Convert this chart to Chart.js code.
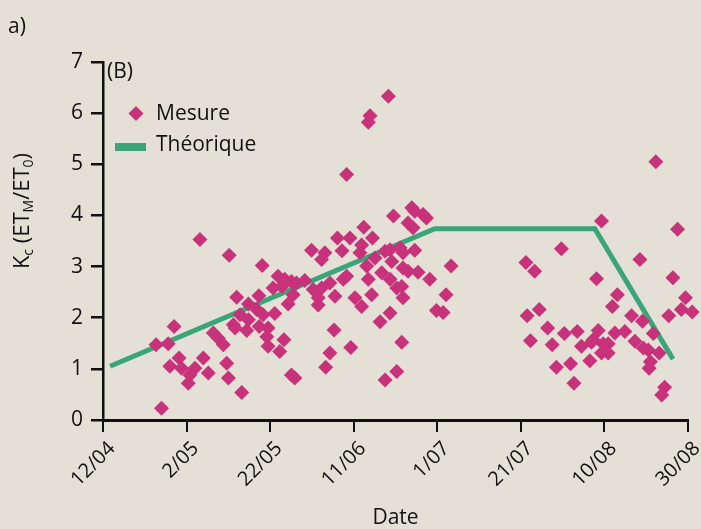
<!DOCTYPE html>
<html>
<head>
<meta charset="utf-8">
<script src="https://cdn.jsdelivr.net/npm/chart.js@4"></script>
<style>
  html, body { margin: 0; padding: 0; background: #e5e0d6; }
  #wrap { width: 701px; height: 529px; position: relative; }
</style>
</head>
<body>
<div id="wrap"><canvas id="kc-chart"></canvas></div>
<script>
// axe des x : jours depuis le 12/04, un repère tous les 20 jours
const tickLabels = ['12/04', '2/05', '22/05', '11/06', '1/07', '21/07', '10/08', '30/08'];

// Kc mesuré (jour, valeur)
const measureDays = [
  14.0, 12.7, 15.6, 17.0, 18.2, 16.0, 18.8, 22.0, 20.8, 20.4,
  23.2, 24.0, 25.2, 26.4, 27.6, 28.8, 29.6, 30.0, 33.2, 30.2,
  32.0, 32.8, 31.2, 31.6, 34.8, 34.4, 34.8, 37.3, 38.1, 37.4,
  39.5, 39.2, 39.5, 41.1, 41.9, 43.5, 45.1, 40.7, 42.8, 46.3,
  45.5, 44.3, 43.3, 42.3, 45.1, 45.9, 36.8, 38.3,
  48.3, 49.9, 53.1, 52.3, 50.3, 52.3, 54.3, 51.5, 51.5, 55.5,
  55.3, 54.3, 53.3, 57.5, 58.3, 56.1, 57.2, 59.1, 58.3, 59.3,
  60.3, 61.9, 61.9, 61.5, 62.4, 63.1, 63.5, 64.3, 64.5, 63.9,
  63.5, 65.1, 66.3, 66.7, 67.5, 67.5, 68.3, 68.7, 69.1, 68.7,
  68.7, 69.5, 70.3, 70.3, 71.1, 71.5, 71.5, 71.8, 71.8, 71.8,
  73.0, 73.0, 74.2, 73.9, 74.6, 74.6, 75.4, 76.6, 77.4, 78.2,
  79.8, 81.4, 82.1, 83.3,
  101.2, 103.3, 101.5, 104.4, 102.3, 106.4, 107.5, 108.5, 109.7, 110.4,
  111.9, 112.7, 113.5, 114.5, 116.5, 116.9, 117.3, 118.1, 118.5, 119.3,
  119.7, 120.9, 119.3, 120.9, 121.9, 123.1, 122.5, 124.9, 126.5, 127.3,
  128.5, 129.1, 129.3, 130.5, 131.0, 130.7, 131.7, 132.3, 133.1, 134.4,
  133.7, 135.4, 136.4, 137.5, 138.4, 139.4, 141.0
];
const measureValues = [
  0.23, 1.47, 1.49, 1.83, 1.21, 1.05, 1.01, 1.01, 0.88, 0.72,
  3.53, 1.21, 0.92, 1.70, 1.60, 1.47, 1.11, 0.82, 0.54, 3.22,
  2.40, 2.06, 1.86, 1.80, 1.96, 1.75, 2.27, 2.43, 3.02, 1.83,
  1.80, 1.63, 1.44, 2.08, 2.81, 2.75, 2.71, 2.58, 2.61, 2.68,
  2.45, 2.27, 1.57, 1.34, 0.88, 0.82, 2.16, 2.06,
  2.73, 3.32, 3.27, 3.14, 2.55, 2.58, 2.68, 2.39, 2.25, 2.42,
  1.76, 1.31, 1.03, 2.75, 2.81, 3.56, 3.31, 3.56, 4.80, 1.42,
  2.39, 2.22, 3.42, 3.27, 3.77, 3.01, 2.75, 2.45, 3.56, 5.95,
  5.82, 3.17, 1.92, 2.88, 3.30, 0.78, 6.33, 3.33, 3.10, 2.75,
  2.09, 3.99, 2.58, 0.95, 3.37, 2.61, 1.52, 3.27, 2.97, 2.39,
  2.91, 3.85, 3.76, 4.15, 4.08, 3.32, 2.89, 4.02, 3.95, 2.75,
  2.14, 2.10, 2.45, 3.01,
  3.08, 2.91, 2.04, 2.16, 1.55, 1.80, 1.47, 1.03, 3.35, 1.69,
  1.10, 0.72, 1.73, 1.44, 1.16, 1.52, 1.57, 2.76, 1.75, 3.89,
  1.49, 1.49, 1.31, 1.31, 2.22, 2.45, 1.70, 1.73, 2.04, 1.54,
  3.14, 1.93, 1.41, 1.37, 1.14, 1.01, 1.69, 5.05, 1.31, 0.64,
  0.49, 2.04, 2.78, 3.73, 2.16, 2.39, 2.11
];

// Kc théorique
const theoDays = [1.7, 79.4, 117.7, 136.4];
const theoValues = [1.05, 3.74, 3.74, 1.19];

const pink = '#c8327a';
const green = '#3aa578';
const ink = '#111111';
const fontFamily = '"Open Sans", "DejaVu Sans", sans-serif';

const mesure = measureDays.map((d, i) => ({ x: d, y: measureValues[i] }));
const theorique = theoDays.map((d, i) => ({ x: d, y: theoValues[i] }));

// textes hors axes : a), (B), légende, titre de l'axe y avec indices
const extras = {
  id: 'extras',
  afterDraw(chart) {
    const ctx = chart.ctx;
    ctx.save();
    ctx.fillStyle = ink;
    ctx.textBaseline = 'middle';
    ctx.textAlign = 'left';
    ctx.font = '21px ' + fontFamily;
    ctx.fillText('a)', 8, 27);
    ctx.fillText('(B)', 107, 72);

    // légende
    ctx.fillStyle = pink;
    ctx.beginPath();
    ctx.moveTo(136, 106); ctx.lineTo(143.5, 113.5); ctx.lineTo(136, 121); ctx.lineTo(128.5, 113.5);
    ctx.closePath();
    ctx.fill();
    ctx.strokeStyle = green;
    ctx.lineWidth = 8;
    ctx.beginPath();
    ctx.moveTo(115, 147); ctx.lineTo(146, 147);
    ctx.stroke();
    ctx.fillStyle = ink;
    ctx.fillText('Mesure', 156, 114);
    ctx.fillText('Théorique', 156, 145);

    // titre y : Kc (ETM/ET0)
    const parts = [['K', 0], ['c', 1], [' (ET', 0], ['M', 1], ['/ET', 0], ['0', 1], [')', 0]];
    const mainFont = '22px ' + fontFamily;
    const subFont = '14px ' + fontFamily;
    let total = 0;
    parts.forEach(p => { ctx.font = p[1] ? subFont : mainFont; total += ctx.measureText(p[0]).width; });
    ctx.translate(23, 211);
    ctx.rotate(-Math.PI / 2);
    let x = -total / 2;
    parts.forEach(p => {
      ctx.font = p[1] ? subFont : mainFont;
      ctx.fillText(p[0], x, p[1] ? 6 : 0);
      x += ctx.measureText(p[0]).width;
    });
    ctx.restore();
  }
};

new Chart(document.getElementById('kc-chart'), {
  type: 'scatter',
  data: {
    datasets: [
      {
        label: 'Théorique',
        type: 'line',
        data: theorique,
        borderColor: green,
        backgroundColor: green,
        borderWidth: 5,
        pointRadius: 0,
        tension: 0,
        order: 2
      },
      {
        label: 'Mesure',
        data: mesure,
        pointStyle: 'rectRot',
        pointRadius: 7.5,
        pointHoverRadius: 7.5,
        backgroundColor: pink,
        borderColor: pink,
        borderWidth: 0,
        clip: false,
        order: 1
      }
    ]
  },
  options: {
    responsive: true,
    maintainAspectRatio: false,
    animation: false,
    layout: { padding: { left: 0, top: 62, right: 13, bottom: 0 } },
    plugins: {
      legend: { display: false },
      tooltip: { enabled: false }
    },
    scales: {
      x: {
        type: 'linear',
        min: 0,
        max: 140,
        afterFit: s => { s.height = 109; s.paddingLeft = 0; s.paddingRight = 0; },
        border: { display: true, color: ink, width: 3 },
        grid: { drawOnChartArea: false, drawTicks: true, tickLength: 12, color: ink, lineWidth: 2 },
        ticks: {
          stepSize: 20,
          minRotation: 45,
          maxRotation: 45,
          padding: 5,
          labelOffset: 9,
          color: ink,
          font: { family: fontFamily, size: 20 },
          callback: v => tickLabels[Math.round(v / 20)]
        },
        title: {
          display: true,
          text: 'Date',
          color: ink,
          padding: { top: 0, bottom: 0 },
          font: { family: fontFamily, size: 21, lineHeight: 1 }
        }
      },
      y: {
        min: 0,
        max: 7,
        afterFit: s => { s.width = 103; s.paddingTop = 0; s.paddingBottom = 0; },
        border: { display: true, color: ink, width: 2.5 },
        grid: { drawOnChartArea: false, drawTicks: true, tickLength: 12, color: ink, lineWidth: 2.5 },
        ticks: {
          stepSize: 1,
          padding: 8,
          color: ink,
          font: { family: fontFamily, size: 21 }
        }
      }
    }
  },
  plugins: [extras]
});
</script>
</body>
</html>
